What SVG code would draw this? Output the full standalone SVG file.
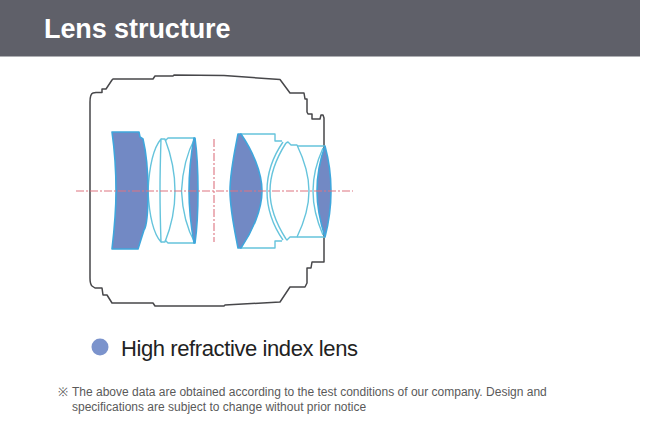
<svg xmlns="http://www.w3.org/2000/svg" width="649" height="437" viewBox="0 0 649 437">
<style>
text{font-family:"Liberation Sans",Arial,sans-serif}
.body{fill:none;stroke:#47474a;stroke-width:1.5;stroke-linejoin:round}
.blue{fill:#7289c4;stroke:#3fa6dc;stroke-width:1.6;stroke-linejoin:round}
.thin{fill:none;stroke:#66c4dc;stroke-width:1.4;stroke-linejoin:round}
.axis{fill:none;stroke:#dd7480;stroke-width:1.1;stroke-dasharray:8 2 2 2}
.note{font-size:12px;fill:#5a5a5a}
</style>
<rect width="649" height="437" fill="#fff"/>
<rect id="header" x="0" y="0" width="640" height="56.500" fill="#5f6069"/>
<text x="44" y="38" font-size="27" font-weight="bold" fill="#fff" letter-spacing="-.08">Lens structure</text>
<path id="barrel" class="body" d="M90 191V102Q90 94 93 93L96 92.500H102V89H106L112 80L113 79H153L155 76H173L174 75L224 75.500L280 79.500L290 93H304L305 99H307V112L308 114H312V119H320L321 115H323L324 118V262H312L311 268H307V283L305 287H290L280 302L225 305L224 306H174L155 306L153 303H112L107 295H103L102 288H95L92 286Q90 284 90 278Z"/>
<g id="lens-group-front">
<path class="thin" d="M148 191Q150 152 161 139Q160 170 160 191Q160 212 161 242Q150 230 148 191Z"/>
<path class="thin" d="M161 139H165Q175 165 175 191Q175 217 165 242H161"/>
<path class="thin" d="M195 138H168L165 141M195 138Q183 160 181.500 191Q183 222 195 243H168L165 240"/>
<path class="blue" d="M112 132H139L140 137L143 139Q148 160 148 191Q148 225 144 230L138 249H112Q116 215 116 191Q116 160 112 132Z"/>
<path class="blue" d="M194 138H195Q198 160 198 191Q198 222 195 243H194Q189 215 189 191Q189 165 194 138Z"/>
</g>
<g id="lens-group-rear">
<path class="thin" d="M240 134H275V141H282M240 248H275V241H282"/>
<path class="thin" d="M283 142Q267 165 267 191Q267 217 283 240M286 143Q270 168 270 191Q270 214 286 239"/>
<path class="thin" d="M286 143L288 142L291 145H297Q309 170 309 191Q309 212 297 237H290L287 240L286 239"/>
<path class="thin" d="M297 146H325M297 237H325M323 148Q313 170 313 191Q313 212 323 235"/>
<path class="blue" d="M238 134H241C252 150 262 172 262 191C262 210 252 232 241 248H238C235 232 230 210 230 191C230 172 235 150 238 134Z"/>
<path class="blue" d="M325 146Q331 168 331 191Q331 214 325 237Q317 212 317 191Q317 168 325 146Z"/>
</g>
<g id="axes">
<path class="axis" d="M76 191H353"/>
<path class="axis" d="M214 139V242"/>
</g>
<g id="legend">
<circle cx="100" cy="347" r="8.500" fill="#7b93cc"/>
<text x="121" y="355.500" font-size="22" letter-spacing="-.4" fill="#222">High refractive index lens</text>
</g>
<g id="note">
<text class="note" x="58" y="396">※</text>
<text class="note" x="72" y="396">The above data are obtained according to the test conditions of our company. Design and</text>
<text class="note" x="72" y="411">specifications are subject to change without prior notice</text>
</g>
</svg>
